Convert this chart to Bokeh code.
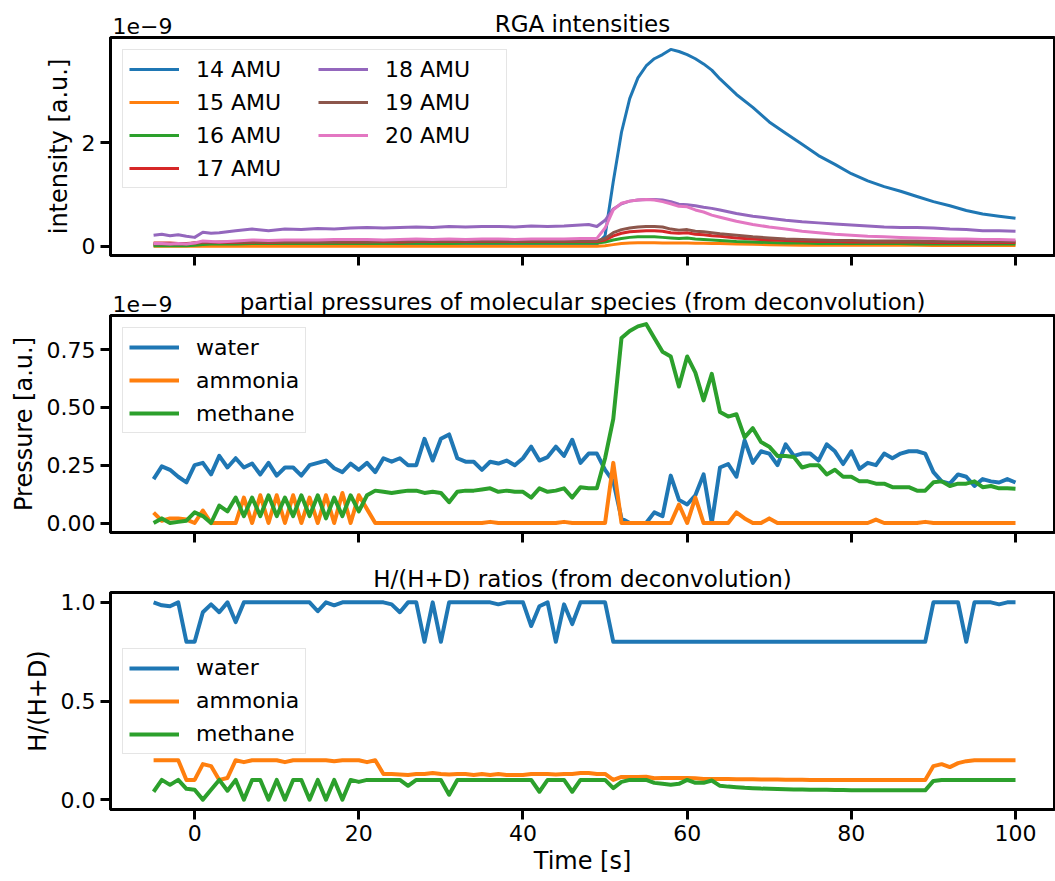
from bokeh.plotting import figure
from bokeh.layouts import column
from bokeh.embed import file_html
from bokeh.resources import INLINE
import bokeh.models as bmd

# ---- data -------------------------------------------------------------
# sampling times of the deconvolution panels [s]
time_s = [-5, -4, -3, -2, -1, 0, 1, 2, 3, 4,
          5, 6, 7, 8, 9, 10, 11, 12, 13, 14,
          15, 16, 17, 18, 19, 20, 21, 22, 23, 24,
          25, 26, 27, 28, 29, 30, 31, 32, 33, 34,
          35, 36, 37, 38, 39, 40, 41, 42, 43, 44,
          45, 46, 47, 48, 49, 50, 51, 52, 53, 54,
          55, 56, 57, 58, 59, 60, 61, 62, 63, 64,
          65, 66, 67, 68, 69, 70, 71, 72, 73, 74,
          75, 76, 77, 78, 79, 80, 81, 82, 83, 84,
          85, 86, 87, 88, 89, 90, 91, 92, 93, 94,
          95, 96, 97, 98, 99, 100]

# RGA sample times [s]
time_rga = [-5, -4, -3, -2, -1, 0, 1, 2, 3,
            5, 7, 9, 11, 13, 15, 17, 19, 21, 23, 25, 27, 29, 31, 33, 35, 37, 39, 41, 43, 45, 47,
            48, 49, 50, 51, 52, 53, 54, 55, 56, 57, 58, 59, 60, 61, 62, 63, 64,
            66, 68, 70, 72, 74, 76, 78, 80, 82, 84, 86, 88, 90, 92, 94, 96, 98, 100]

# RGA intensities, in units of 1e-9
amu14 = [0.02, 0.02, 0.02, 0.02, 0.02, 0.02, 0.03, 0.03, 0.03,
         0.03, 0.03, 0.03, 0.03, 0.03, 0.03, 0.03, 0.03, 0.03, 0.03, 0.03,
         0.03, 0.03, 0.03, 0.03, 0.03, 0.03, 0.03, 0.03, 0.03, 0.03, 0.03,
         0.03, 0.04, 0.2, 1.25, 2.2, 2.85, 3.25, 3.48, 3.62, 3.7, 3.8, 3.76, 3.7, 3.62, 3.52, 3.4, 3.23,
         2.93, 2.68, 2.4, 2.18, 1.97, 1.75, 1.58, 1.4, 1.26, 1.15, 1.06, 0.96, 0.86, 0.78, 0.69, 0.62, 0.58, 0.54]
amu15 = [0.0, 0.0, 0.0, 0.0, 0.0, 0.0, 0.0, 0.0, 0.0,
         0.0, 0.0, 0.0, 0.0, 0.0, 0.0, 0.0, 0.0, 0.0, 0.0, 0.0,
         0.0, 0.0, 0.0, 0.0, 0.0, 0.0, 0.0, 0.0, 0.0, 0.0, 0.0,
         0.0, 0.0, 0.01, 0.03, 0.05, 0.06, 0.065, 0.065, 0.065, 0.06, 0.06, 0.06, 0.06, 0.055, 0.055, 0.05, 0.05,
         0.04, 0.035, 0.03, 0.025, 0.02, 0.02, 0.02, 0.02, 0.02, 0.02, 0.02, 0.02, 0.015, 0.015, 0.015, 0.015, 0.015, 0.015]
amu16 = [0.01, 0.01, 0.01, 0.01, 0.01, 0.02, 0.03, 0.04, 0.04,
         0.04, 0.05, 0.05, 0.05, 0.05, 0.05, 0.05, 0.05, 0.05, 0.05, 0.05,
         0.06, 0.05, 0.05, 0.06, 0.06, 0.06, 0.06, 0.06, 0.06, 0.06, 0.06,
         0.06, 0.06, 0.08, 0.12, 0.15, 0.17, 0.18, 0.18, 0.18, 0.17, 0.16, 0.15, 0.16, 0.14, 0.13, 0.12, 0.11,
         0.09, 0.08, 0.07, 0.06, 0.06, 0.05, 0.05, 0.05, 0.05, 0.05, 0.05, 0.04, 0.04, 0.04, 0.04, 0.04, 0.04, 0.04]
amu17 = [0.06, 0.06, 0.06, 0.05, 0.05, 0.06, 0.07, 0.07, 0.07,
         0.07, 0.08, 0.07, 0.08, 0.08, 0.08, 0.08, 0.08, 0.08, 0.09, 0.08,
         0.09, 0.09, 0.09, 0.09, 0.09, 0.09, 0.09, 0.09, 0.09, 0.09, 0.09,
         0.09, 0.09, 0.12, 0.2, 0.25, 0.28, 0.29, 0.3, 0.3, 0.29, 0.26, 0.25, 0.26, 0.23, 0.22, 0.2, 0.19,
         0.16, 0.14, 0.12, 0.11, 0.1, 0.09, 0.09, 0.08, 0.08, 0.08, 0.08, 0.08, 0.07, 0.07, 0.07, 0.07, 0.07, 0.07]
amu18 = [0.21, 0.23, 0.2, 0.22, 0.19, 0.17, 0.27, 0.25, 0.26,
         0.3, 0.33, 0.3, 0.33, 0.32, 0.34, 0.33, 0.35, 0.36, 0.35, 0.36,
         0.37, 0.36, 0.38, 0.37, 0.38, 0.38, 0.37, 0.39, 0.38, 0.39, 0.41,
         0.42, 0.38, 0.5, 0.72, 0.82, 0.87, 0.89, 0.9, 0.9, 0.89, 0.86, 0.81, 0.8, 0.78, 0.75, 0.73, 0.7,
         0.63, 0.58, 0.54, 0.5, 0.47, 0.45, 0.43, 0.41, 0.39, 0.37, 0.36, 0.36, 0.35, 0.33, 0.32, 0.3, 0.3, 0.29]
amu19 = [0.04, 0.04, 0.04, 0.04, 0.04, 0.06, 0.08, 0.07, 0.08,
         0.08, 0.09, 0.08, 0.09, 0.09, 0.09, 0.09, 0.1, 0.09, 0.1, 0.1,
         0.1, 0.1, 0.1, 0.1, 0.1, 0.1, 0.1, 0.1, 0.1, 0.1, 0.1,
         0.1, 0.1, 0.15, 0.26, 0.32, 0.35, 0.37, 0.38, 0.38, 0.37, 0.33, 0.31, 0.32, 0.29, 0.28, 0.26, 0.24,
         0.21, 0.18, 0.16, 0.14, 0.13, 0.12, 0.11, 0.11, 0.1, 0.1, 0.1, 0.1, 0.09, 0.09, 0.09, 0.09, 0.09, 0.09]
amu20 = [0.05, 0.05, 0.04, 0.05, 0.04, 0.06, 0.1, 0.09, 0.08,
         0.1, 0.12, 0.11, 0.12, 0.12, 0.12, 0.13, 0.13, 0.13, 0.12, 0.13,
         0.14, 0.13, 0.14, 0.13, 0.14, 0.14, 0.13, 0.14, 0.14, 0.14, 0.15,
         0.15, 0.15, 0.35, 0.7, 0.83, 0.87, 0.89, 0.9, 0.89, 0.86, 0.82, 0.77, 0.76, 0.7, 0.66, 0.6, 0.56,
         0.48, 0.42, 0.37, 0.33, 0.29, 0.26, 0.23, 0.21, 0.19, 0.18, 0.17, 0.16, 0.15, 0.14, 0.14, 0.13, 0.13, 0.12]

# partial pressures from deconvolution, in units of 1e-9
water_pp = [0.19, 0.245, 0.23, 0.20, 0.176, 0.25, 0.26, 0.21, 0.29, 0.24,
            0.28, 0.24, 0.257, 0.21, 0.26, 0.205, 0.24, 0.24, 0.205, 0.25,
            0.26, 0.27, 0.237, 0.22, 0.257, 0.23, 0.26, 0.22, 0.28, 0.265,
            0.28, 0.25, 0.25, 0.364, 0.27, 0.364, 0.383, 0.28, 0.265, 0.265,
            0.23, 0.265, 0.257, 0.27, 0.25, 0.28, 0.33, 0.27, 0.285, 0.33,
            0.29, 0.36, 0.26, 0.30, 0.30, 0.23, 0.18, 0.02, 0.0, 0.0,
            0.0, 0.046, 0.03, 0.205, 0.10, 0.08, 0.12, 0.21, 0.0, 0.24,
            0.255, 0.20, 0.357, 0.26, 0.31, 0.30, 0.25, 0.34, 0.29, 0.30,
            0.30, 0.27, 0.34, 0.31, 0.255, 0.31, 0.234, 0.26, 0.25, 0.30,
            0.28, 0.30, 0.31, 0.31, 0.30, 0.22, 0.18, 0.17, 0.21, 0.20,
            0.16, 0.19, 0.18, 0.175, 0.19, 0.175]
ammonia_pp = [0.045, 0.01, 0.02, 0.02, 0.015, 0.0, 0.054, 0.0, 0.0, 0.0,
              0.0, 0.11, 0.0, 0.12, 0.0, 0.12, 0.0, 0.12, 0.0, 0.11,
              0.0, 0.12, 0.0, 0.13, 0.0, 0.12, 0.06, 0.0, 0.0, 0.0,
              0.0, 0.0, 0.0, 0.0, 0.0, 0.0, 0.0, 0.0, 0.0, 0.0,
              0.0, 0.005, 0.0, 0.0, 0.0, 0.0, 0.0, 0.0, 0.0, 0.0,
              0.005, 0.0, 0.0, 0.0, 0.0, 0.0, 0.26, 0.0, 0.0, 0.0,
              0.0, 0.0, 0.0, 0.0, 0.08, 0.0, 0.11, 0.0, 0.0, 0.0,
              0.0, 0.046, 0.02, 0.0, 0.0, 0.02, 0.0, 0.0, 0.0, 0.0,
              0.0, 0.0, 0.0, 0.0, 0.0, 0.0, 0.0, 0.0, 0.015, 0.0,
              0.0, 0.0, 0.0, 0.0, 0.005, 0.0, 0.0, 0.0, 0.0, 0.0,
              0.0, 0.0, 0.0, 0.0, 0.0, 0.0]
methane_pp = [0.0, 0.02, 0.0, 0.005, 0.01, 0.046, 0.03, 0.0, 0.075, 0.05,
              0.11, 0.03, 0.11, 0.03, 0.12, 0.03, 0.11, 0.03, 0.12, 0.03,
              0.12, 0.02, 0.11, 0.03, 0.12, 0.05, 0.12, 0.14, 0.135, 0.13,
              0.135, 0.14, 0.14, 0.13, 0.135, 0.13, 0.09, 0.135, 0.14, 0.14,
              0.145, 0.15, 0.135, 0.14, 0.135, 0.135, 0.11, 0.15, 0.135, 0.14,
              0.15, 0.11, 0.155, 0.15, 0.15, 0.28, 0.45, 0.80, 0.83, 0.85,
              0.86, 0.80, 0.74, 0.72, 0.59, 0.72, 0.65, 0.53, 0.645, 0.48,
              0.46, 0.47, 0.37, 0.41, 0.35, 0.33, 0.29, 0.29, 0.285, 0.24,
              0.25, 0.25, 0.21, 0.23, 0.20, 0.20, 0.18, 0.18, 0.17, 0.17,
              0.155, 0.155, 0.155, 0.14, 0.14, 0.176, 0.18, 0.16, 0.17, 0.17,
              0.18, 0.155, 0.16, 0.15, 0.15, 0.148]

# H/(H+D) ratios from deconvolution
water_ratio = [1.0, 0.985, 0.98, 1.0, 0.8, 0.8, 0.95, 0.99, 0.95, 1.0,
               0.9, 1.0, 1.0, 1.0, 1.0, 1.0, 1.0, 1.0, 1.0, 1.0,
               0.955, 1.0, 0.985, 1.0, 1.0, 1.0, 1.0, 1.0, 1.0, 0.99,
               0.95, 1.0, 1.0, 0.8, 1.0, 0.8, 1.0, 1.0, 1.0, 1.0,
               1.0, 1.0, 0.99, 1.0, 1.0, 1.0, 0.88, 0.98, 1.0, 0.8,
               0.99, 0.89, 1.0, 1.0, 1.0, 1.0, 0.8, 0.8, 0.8, 0.8,
               0.8, 0.8, 0.8, 0.8, 0.8, 0.8, 0.8, 0.8, 0.8, 0.8,
               0.8, 0.8, 0.8, 0.8, 0.8, 0.8, 0.8, 0.8, 0.8, 0.8,
               0.8, 0.8, 0.8, 0.8, 0.8, 0.8, 0.8, 0.8, 0.8, 0.8,
               0.8, 0.8, 0.8, 0.8, 0.8, 1.0, 1.0, 1.0, 1.0, 0.8,
               1.0, 1.0, 1.0, 0.99, 1.0, 1.0]
ammonia_ratio = [0.2, 0.2, 0.2, 0.2, 0.1, 0.1, 0.18, 0.17, 0.1, 0.11,
                 0.2, 0.19, 0.2, 0.2, 0.2, 0.2, 0.19, 0.2, 0.2, 0.2,
                 0.2, 0.2, 0.195, 0.2, 0.2, 0.2, 0.19, 0.2, 0.13, 0.13,
                 0.128, 0.125, 0.13, 0.13, 0.135, 0.13, 0.127, 0.13, 0.13, 0.125,
                 0.13, 0.125, 0.13, 0.125, 0.125, 0.125, 0.13, 0.13, 0.13, 0.127,
                 0.13, 0.13, 0.135, 0.135, 0.13, 0.13, 0.1, 0.115, 0.115, 0.115,
                 0.116, 0.108, 0.11, 0.11, 0.11, 0.11, 0.108, 0.105, 0.105, 0.104,
                 0.104, 0.103, 0.103, 0.103, 0.102, 0.102, 0.102, 0.101, 0.101, 0.101,
                 0.1, 0.1, 0.1, 0.1, 0.1, 0.1, 0.1, 0.1, 0.1, 0.1,
                 0.1, 0.1, 0.1, 0.1, 0.1, 0.17, 0.18, 0.165, 0.185, 0.195,
                 0.2, 0.2, 0.2, 0.2, 0.2, 0.2]
methane_ratio = [0.04, 0.1, 0.075, 0.1, 0.055, 0.05, 0.0, 0.05, 0.1, 0.045,
                 0.1, 0.0, 0.1, 0.1, 0.0, 0.1, 0.0, 0.1, 0.1, 0.0,
                 0.1, 0.0, 0.1, 0.0, 0.1, 0.09, 0.1, 0.1, 0.1, 0.1,
                 0.1, 0.07, 0.1, 0.1, 0.1, 0.1, 0.025, 0.1, 0.1, 0.1,
                 0.1, 0.1, 0.1, 0.1, 0.1, 0.1, 0.1, 0.04, 0.1, 0.1,
                 0.1, 0.04, 0.1, 0.1, 0.1, 0.1, 0.058, 0.09, 0.1, 0.1,
                 0.1, 0.085, 0.08, 0.075, 0.08, 0.1, 0.085, 0.085, 0.097, 0.07,
                 0.066, 0.063, 0.06, 0.058, 0.056, 0.055, 0.054, 0.053, 0.052, 0.051,
                 0.05, 0.05, 0.05, 0.049, 0.049, 0.048, 0.048, 0.048, 0.048, 0.047,
                 0.047, 0.047, 0.047, 0.047, 0.047, 0.095, 0.1, 0.1, 0.1, 0.1,
                 0.1, 0.1, 0.1, 0.1, 0.1, 0.1]

rga_labels = ["14 AMU", "15 AMU", "16 AMU", "17 AMU", "18 AMU", "19 AMU", "20 AMU"]
species = ["water", "ammonia", "methane"]
x_ticks = [0, 20, 40, 60, 80, 100]

# ---- styling ----------------------------------------------------------
FONT = "DejaVu Sans"
TAB = ["#1f77b4", "#ff7f0e", "#2ca02c", "#d62728", "#9467bd", "#8c564b", "#e377c2"]
W = 1055

x_range = bmd.Range1d(-10.25, 104.75)


def make_fig(height, title, ylabel, y_range, yticks, border_top, border_bottom, show_x,
             offset_text=False):
    p = figure(width=W, height=height, x_range=x_range, y_range=y_range, title=None,
               output_backend="svg", toolbar_location=None,
               min_border_left=110, min_border_right=1,
               min_border_top=border_top, min_border_bottom=border_bottom)
    p.background_fill_color = "white"
    p.border_fill_color = "white"
    p.outline_line_color = "black"
    p.outline_line_width = 3
    p.xgrid.visible = False
    p.ygrid.visible = False

    # centred title next to the frame
    p.add_layout(bmd.Title(text=title, align="center", text_font=FONT, text_font_size="23px",
                           text_font_style="normal", text_color="black", standoff=2), "above")
    if offset_text:
        # matplotlib-style "1e-9" multiplier, left aligned just above the frame
        # (a title with a negative standoff takes no room and sits on the title row)
        p.add_layout(bmd.Title(text="1e\u22129", align="left", offset=2, text_font=FONT,
                               text_font_size="22px", text_font_style="normal",
                               text_color="black", standoff=-52), "above")

    for ax in (p.xaxis[0], p.yaxis[0]):
        ax.axis_line_color = "black"
        ax.axis_line_width = 3
        ax.major_tick_out = 10
        ax.major_tick_in = 0
        ax.major_tick_line_width = 3
        ax.major_tick_line_color = "black"
        ax.minor_tick_line_color = None
        ax.major_label_text_font = FONT
        ax.major_label_text_font_size = "22px"
        ax.major_label_text_color = "black"
        ax.axis_label_text_font = FONT
        ax.axis_label_text_font_size = "24px"
        ax.axis_label_text_font_style = "normal"
        ax.axis_label_text_color = "black"

    p.xaxis.ticker = x_ticks
    p.yaxis.ticker = yticks
    p.yaxis.axis_label = ylabel
    p.yaxis.major_label_standoff = 5
    p.yaxis.axis_label_standoff = 6
    if show_x:
        p.xaxis.axis_label = "Time [s]"
        p.xaxis.major_label_standoff = 5
        p.xaxis.axis_label_standoff = 3
    else:
        # shared time axis: ticks only, no labels
        p.xaxis.major_label_text_color = None
    return p


def style_legend(p, location):
    lg = p.legend[0]
    lg.location = location
    lg.margin = 12
    lg.padding = 6
    lg.spacing = 7
    lg.glyph_width = 50
    lg.glyph_height = 26
    lg.label_height = 26
    lg.label_standoff = 17
    lg.label_text_font = FONT
    lg.label_text_font_size = "22px"
    lg.label_text_color = "black"
    lg.border_line_color = "#cccccc"
    lg.border_line_width = 1
    lg.background_fill_color = "white"
    lg.background_fill_alpha = 0.8
    return lg


# ---- panel 1: RGA intensities ----------------------------------------
p1 = make_fig(285, "RGA intensities", "intensity [a.u.]", bmd.Range1d(-0.18, 4.03),
              [0, 2], 37, 30, False, offset_text=True)
rga = [amu14, amu15, amu16, amu17, amu18, amu19, amu20]
for label, color, vals in zip(rga_labels, TAB, rga):
    p1.line(time_rga, vals, line_color=color, line_width=3, line_join="round",
            legend_label=label)
lg1 = style_legend(p1, "top_left")
lg1.ncols = 2
lg1.label_width = 115

# ---- panel 2: partial pressures --------------------------------------
p2 = make_fig(277, "partial pressures of molecular species (from deconvolution)",
              "Pressure [a.u.]", bmd.Range1d(-0.041, 0.897),
              [0, 0.25, 0.5, 0.75], 30, 30, False, offset_text=True)
p2.yaxis.formatter = bmd.NumeralTickFormatter(format="0.00")
for label, color, vals in zip(species, TAB, [water_pp, ammonia_pp, methane_pp]):
    p2.line(time_s, vals, line_color=color, line_width=4, line_join="round",
            legend_label=label)
style_legend(p2, "top_left")

# ---- panel 3: H/(H+D) ratios -----------------------------------------
p3 = make_fig(318, "H/(H+D) ratios (from deconvolution)", "H/(H+D)",
              bmd.Range1d(-0.05, 1.05), [0, 0.5, 1.0], 30, 71, True)
p3.yaxis.formatter = bmd.NumeralTickFormatter(format="0.0")
for label, color, vals in zip(species, TAB, [water_ratio, ammonia_ratio, methane_ratio]):
    p3.line(time_s, vals, line_color=color, line_width=4, line_join="round",
            legend_label=label)
style_legend(p3, "center_left")

fig = column(p1, p2, p3, spacing=0)

open("out.html", "w").write(file_html(fig, INLINE))
